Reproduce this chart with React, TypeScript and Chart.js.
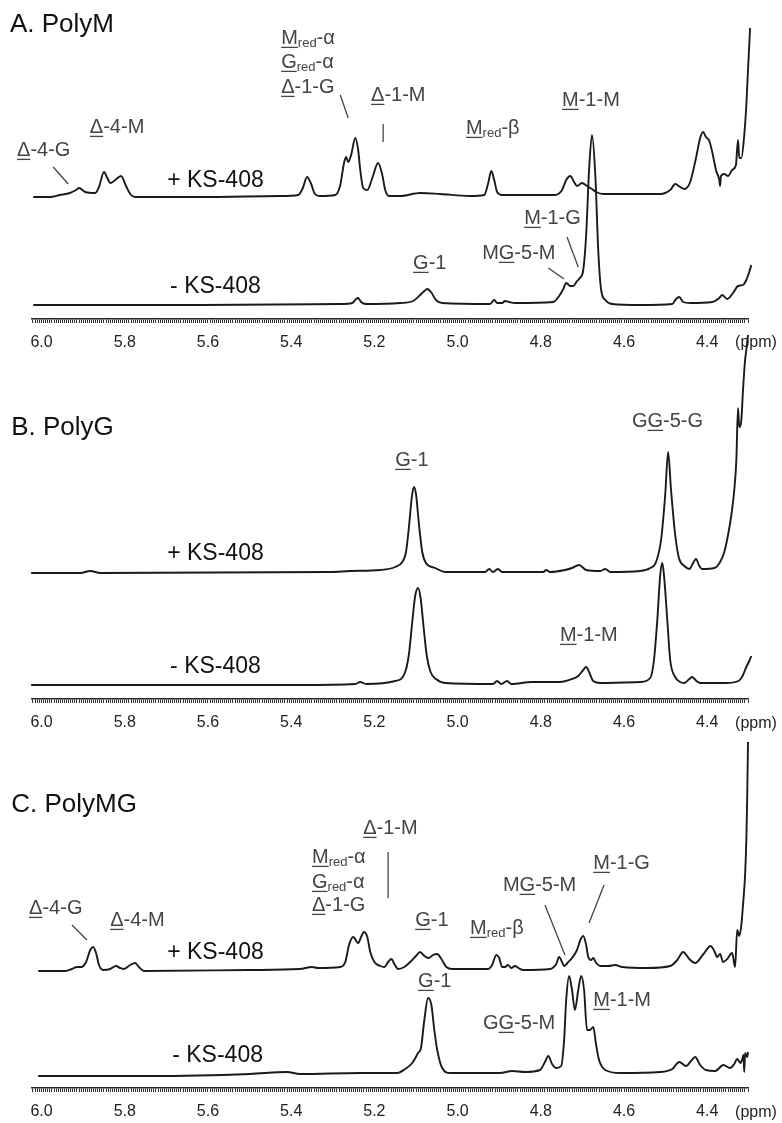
import React, { useEffect, useRef } from 'react';
import { Chart, registerables } from 'chart.js';

Chart.register(...registerables);

type Pt = [number, number];

// ---- spectra: [ppm, intensity above own baseline] ----
const polyM_plus: Pt[] = [
  [6.020,-1],[5.980,-1],[5.956,1],[5.932,3],[5.917,6],[5.910,8],[5.895,4],[5.871,3],[5.862,9],[5.850,24],[5.842,18],[5.835,13],[5.823,16],[5.809,20],[5.797,10],[5.787,2],[5.775,-1],[5.619,-1],[5.427,0],[5.383,1],[5.372,8],[5.362,19],[5.352,12],[5.343,2],[5.331,0],[5.294,1],[5.282,11],[5.273,33],[5.268,39],[5.263,34],[5.256,41],[5.246,58],[5.239,46],[5.234,26],[5.227,8],[5.217,6],[5.205,18],[5.191,33],[5.181,21],[5.174,6],[5.165,0],[5.138,0],[5.090,3],[5.042,2],[4.970,0],[4.936,1],[4.927,12],[4.919,25],[4.912,16],[4.905,4],[4.893,1],[4.766,1],[4.749,6],[4.739,16],[4.729,20],[4.720,14],[4.713,10],[4.701,13],[4.689,10],[4.677,7],[4.667,4],[4.650,2],[4.513,2],[4.489,6],[4.477,12],[4.465,9],[4.455,7],[4.441,14],[4.427,38],[4.417,58],[4.410,64],[4.403,59],[4.395,55],[4.388,44],[4.379,26],[4.371,16],[4.369,10],[4.367,20],[4.359,22],[4.350,20],[4.340,26],[4.331,31],[4.326,56],[4.323,38],[4.318,38],[4.311,61],[4.306,91],[4.302,126],[4.299,151],[4.297,168]
];
const polyM_minus: Pt[] = [
  [6.020,0],[5.619,0],[5.282,1],[5.253,2],[5.244,6],[5.239,7],[5.232,3],[5.220,1],[5.138,2],[5.107,4],[5.090,10],[5.080,14],[5.073,16],[5.064,13],[5.052,5],[5.037,2],[4.922,1],[4.912,5],[4.905,2],[4.893,2],[4.886,4],[4.876,3],[4.862,2],[4.770,3],[4.756,9],[4.746,16],[4.739,22],[4.729,19],[4.722,19],[4.713,24],[4.706,27],[4.698,35],[4.691,70],[4.684,135],[4.677,170],[4.669,130],[4.662,55],[4.655,15],[4.645,5],[4.629,1],[4.561,0],[4.484,1],[4.475,6],[4.467,8],[4.458,3],[4.441,2],[4.388,3],[4.371,7],[4.364,10],[4.352,6],[4.338,12],[4.326,19],[4.314,20],[4.306,25],[4.299,33],[4.294,40]
];
const polyG_plus: Pt[] = [
  [6.025,-1],[5.907,-1],[5.883,1],[5.859,-1],[5.306,0],[5.258,1],[5.186,2],[5.150,5],[5.133,10],[5.124,20],[5.117,45],[5.110,75],[5.105,85],[5.100,78],[5.093,48],[5.085,20],[5.076,9],[5.054,4],[5.030,0],[4.934,0],[4.924,3],[4.915,0],[4.903,3],[4.893,0],[4.794,0],[4.787,2],[4.778,0],[4.742,2],[4.725,4],[4.708,7],[4.691,2],[4.657,1],[4.645,3],[4.633,0],[4.561,1],[4.537,4],[4.523,10],[4.511,32],[4.501,77],[4.494,120],[4.487,82],[4.477,37],[4.468,14],[4.455,6],[4.443,3],[4.434,9],[4.427,13],[4.419,6],[4.412,3],[4.383,4],[4.369,10],[4.359,20],[4.350,37],[4.342,57],[4.335,82],[4.330,112],[4.326,164],[4.323,145],[4.318,152],[4.314,182],[4.309,212],[4.306,222],[4.302,237]
];
const polyG_minus: Pt[] = [
  [6.025,-1],[5.378,-1],[5.246,0],[5.234,2],[5.220,0],[5.150,3],[5.126,12],[5.117,30],[5.109,62],[5.102,88],[5.095,96],[5.089,86],[5.082,58],[5.074,28],[5.065,12],[5.052,5],[5.030,1],[4.915,0],[4.905,3],[4.895,0],[4.881,3],[4.871,0],[4.821,2],[4.754,2],[4.725,5],[4.710,8],[4.698,14],[4.691,17],[4.684,12],[4.674,3],[4.657,1],[4.561,2],[4.537,6],[4.528,24],[4.520,64],[4.513,109],[4.508,121],[4.504,109],[4.496,64],[4.489,24],[4.477,7],[4.465,2],[4.455,1],[4.443,5],[4.436,7],[4.426,3],[4.416,1],[4.356,1],[4.325,3],[4.315,8],[4.311,12],[4.306,17],[4.299,23],[4.294,28]
];
const polyMG_plus: Pt[] = [
  [6.008,-2],[5.943,-2],[5.927,0],[5.915,2],[5.905,2],[5.893,7],[5.883,19],[5.876,22],[5.869,16],[5.862,4],[5.852,-1],[5.835,0],[5.821,3],[5.811,1],[5.802,0],[5.787,4],[5.775,6],[5.766,2],[5.754,-2],[5.499,-1],[5.379,0],[5.350,2],[5.335,1],[5.282,2],[5.270,7],[5.261,24],[5.251,32],[5.239,26],[5.232,32],[5.225,37],[5.217,32],[5.210,17],[5.200,7],[5.186,3],[5.176,2],[5.167,7],[5.159,10],[5.152,5],[5.143,0],[5.128,2],[5.114,7],[5.100,13],[5.090,17],[5.080,13],[5.070,11],[5.059,14],[5.049,15],[5.039,10],[5.027,2],[5.013,0],[4.927,0],[4.917,4],[4.907,14],[4.900,11],[4.893,2],[4.886,2],[4.879,4],[4.871,1],[4.862,3],[4.854,1],[4.842,-1],[4.778,0],[4.763,5],[4.756,12],[4.749,7],[4.744,3],[4.734,7],[4.725,11],[4.713,19],[4.705,29],[4.698,33],[4.691,24],[4.686,12],[4.679,9],[4.674,11],[4.667,6],[4.657,3],[4.638,3],[4.621,4],[4.604,2],[4.544,1],[4.489,3],[4.472,9],[4.458,17],[4.443,10],[4.429,6],[4.409,15],[4.392,23],[4.383,18],[4.376,12],[4.369,15],[4.362,7],[4.352,10],[4.340,16],[4.333,2],[4.328,39],[4.323,33],[4.318,44],[4.314,64],[4.309,94],[4.306,129],[4.304,169],[4.302,227]
];
const polyMG_minus: Pt[] = [
  [6.008,-2],[5.739,-2],[5.499,0],[5.410,2],[5.379,0],[5.234,1],[5.145,1],[5.126,5],[5.109,11],[5.095,21],[5.088,26],[5.080,54],[5.071,76],[5.063,69],[5.056,44],[5.049,24],[5.037,6],[5.018,1],[4.898,1],[4.869,3],[4.838,2],[4.802,4],[4.790,12],[4.782,18],[4.773,10],[4.763,6],[4.751,8],[4.744,34],[4.739,74],[4.732,98],[4.725,84],[4.718,64],[4.710,84],[4.703,98],[4.696,84],[4.689,44],[4.682,44],[4.674,47],[4.667,29],[4.660,14],[4.645,4],[4.609,1],[4.513,2],[4.484,5],[4.467,12],[4.451,8],[4.439,13],[4.429,17],[4.417,9],[4.403,4],[4.381,3],[4.361,9],[4.345,6],[4.335,10],[4.328,15],[4.320,11],[4.315,16],[4.313,19],[4.311,2],[4.309,21],[4.304,17],[4.302,22]
];

// ---- axis ----
const PPM_MIN = 4.302;
const PPM_MAX = 6.023;
const PPM_TICK_LABELS = [6.0, 5.8, 5.6, 5.4, 5.2, 5.0, 4.8, 4.6, 4.4];
const MINOR_STEP = 0.005;

// ---- text: _x_ underlined, {x} subscript ----
type Kind = 'title' | 'trace' | 'peak' | 'unit';
type Label = { text: string; ppm: number; v: number; kind: Kind };
type Leader = [number, number, number, number];

const polyM_labels: Label[] = [
  { text: 'A. PolyM', ppm: 6.076, v: 294, kind: 'title' },
  { text: '+ KS-408', ppm: 5.698, v: 138, kind: 'trace' },
  { text: '- KS-408', ppm: 5.691, v: 32, kind: 'trace' },
  { text: '_Δ_-4-G', ppm: 6.059, v: 169, kind: 'peak' },
  { text: '_Δ_-4-M', ppm: 5.884, v: 192, kind: 'peak' },
  { text: '_M_{red}-α', ppm: 5.424, v: 281, kind: 'peak' },
  { text: '_G_{red}-α', ppm: 5.424, v: 257, kind: 'peak' },
  { text: '_Δ_-1-G', ppm: 5.424, v: 232, kind: 'peak' },
  { text: '_Δ_-1-M', ppm: 5.208, v: 224, kind: 'peak' },
  { text: '_M_{red}-β', ppm: 4.980, v: 191, kind: 'peak' },
  { text: '_M_-1-M', ppm: 4.749, v: 219, kind: 'peak' },
  { text: '_M_-1-G', ppm: 4.840, v: 101, kind: 'peak' },
  { text: 'M_G_-5-M', ppm: 4.941, v: 66, kind: 'peak' },
  { text: '_G_-1', ppm: 5.107, v: 56, kind: 'peak' },
  { text: '(ppm)', ppm: 4.333, v: -24, kind: 'unit' },
];
const polyM_leaders: Leader[] = [
  [5.972, 152, 5.936, 135],
  [5.282, 224, 5.263, 201],
  [5.179, 195, 5.179, 177],
  [4.737, 82, 4.710, 52],
  [4.782, 51, 4.744, 40],
];

const polyG_labels: Label[] = [
  { text: 'B. PolyG', ppm: 6.073, v: 271, kind: 'title' },
  { text: '+ KS-408', ppm: 5.698, v: 145, kind: 'trace' },
  { text: '- KS-408', ppm: 5.691, v: 32, kind: 'trace' },
  { text: '_G_-1', ppm: 5.150, v: 239, kind: 'peak' },
  { text: 'G_G_-5-G', ppm: 4.581, v: 278, kind: 'peak' },
  { text: '_M_-1-M', ppm: 4.754, v: 64, kind: 'peak' },
  { text: '(ppm)', ppm: 4.333, v: -25, kind: 'unit' },
];
const polyG_leaders: Leader[] = [];

const polyMG_labels: Label[] = [
  { text: 'C. PolyMG', ppm: 6.073, v: 283, kind: 'title' },
  { text: '_Δ_-4-G', ppm: 6.030, v: 180, kind: 'peak' },
  { text: '_Δ_-4-M', ppm: 5.835, v: 168, kind: 'peak' },
  { text: '+ KS-408', ppm: 5.698, v: 135, kind: 'trace' },
  { text: '- KS-408', ppm: 5.686, v: 32, kind: 'trace' },
  { text: '_Δ_-1-M', ppm: 5.227, v: 260, kind: 'peak' },
  { text: '_M_{red}-α', ppm: 5.350, v: 231, kind: 'peak' },
  { text: '_G_{red}-α', ppm: 5.350, v: 206, kind: 'peak' },
  { text: '_Δ_-1-G', ppm: 5.350, v: 183, kind: 'peak' },
  { text: '_G_-1', ppm: 5.102, v: 168, kind: 'peak' },
  { text: '_M_{red}-β', ppm: 4.970, v: 160, kind: 'peak' },
  { text: 'M_G_-5-M', ppm: 4.891, v: 203, kind: 'peak' },
  { text: '_M_-1-G', ppm: 4.674, v: 225, kind: 'peak' },
  { text: '_G_-1', ppm: 5.095, v: 107, kind: 'peak' },
  { text: '_M_-1-M', ppm: 4.674, v: 88, kind: 'peak' },
  { text: 'G_G_-5-M', ppm: 4.939, v: 65, kind: 'peak' },
  { text: '(ppm)', ppm: 4.333, v: -25, kind: 'unit' },
];
const polyMG_leaders: Leader[] = [
  [5.927, 163, 5.891, 148],
  [5.167, 236, 5.167, 190],
  [4.790, 183, 4.742, 133],
  [4.648, 203, 4.684, 165],
];

const FONT = '"Liberation Sans", Arial, Helvetica, sans-serif';
const STYLE: Record<Kind, { size: number; color: string }> = {
  title: { size: 26, color: '#111' },
  trace: { size: 23, color: '#111' },
  peak: { size: 20, color: '#444' },
  unit: { size: 16, color: '#222' },
};

type Seg = { t: string; u?: boolean; sub?: boolean };
function parse(text: string): Seg[] {
  const segs: Seg[] = [];
  const re = /_([^_]+)_|\{([^}]+)\}|([^_{]+)/g;
  let m: RegExpExecArray | null;
  while ((m = re.exec(text))) {
    if (m[1]) segs.push({ t: m[1], u: true });
    else if (m[2]) segs.push({ t: m[2], sub: true });
    else segs.push({ t: m[3] });
  }
  return segs;
}

function drawRich(ctx: CanvasRenderingContext2D, text: string, x: number, y: number, kind: Kind) {
  const { size, color } = STYLE[kind];
  ctx.fillStyle = color;
  ctx.strokeStyle = color;
  ctx.textBaseline = 'middle';
  ctx.textAlign = 'left';
  let cx = x;
  for (const s of parse(text)) {
    const fs = s.sub ? Math.round(size * 0.66) : size;
    ctx.font = `${fs}px ${FONT}`;
    const dy = s.sub ? size * 0.26 : 0;
    ctx.fillText(s.t, cx, y + dy);
    const w = ctx.measureText(s.t).width;
    if (s.u) {
      ctx.lineWidth = 1.3;
      ctx.beginPath();
      ctx.moveTo(cx, y + size * 0.47);
      ctx.lineTo(cx + w, y + size * 0.47);
      ctx.stroke();
    }
    cx += w;
  }
}

function makeTextPlugin(labels: Label[], leaders: Leader[]) {
  return {
    id: 'nmrText',
    afterDraw(chart: any) {
      const { ctx } = chart;
      const xs = chart.scales.x;
      const ys = chart.scales.y;
      ctx.save();
      ctx.strokeStyle = '#444';
      ctx.lineWidth = 1.3;
      for (const [a, b, c, d] of leaders) {
        ctx.beginPath();
        ctx.moveTo(xs.getPixelForValue(a), ys.getPixelForValue(b));
        ctx.lineTo(xs.getPixelForValue(c), ys.getPixelForValue(d));
        ctx.stroke();
      }
      for (const l of labels) {
        drawRich(ctx, l.text, xs.getPixelForValue(l.ppm), ys.getPixelForValue(l.v), l.kind);
      }
      ctx.restore();
    },
  };
}

type PanelProps = {
  top: number;
  height: number;
  plus: Pt[];
  minus: Pt[];
  plusOffset: number;
  minusOffset: number;
  labels: Label[];
  leaders: Leader[];
};

const AXIS_H = 34;

function Panel(p: PanelProps) {
  const ref = useRef<HTMLCanvasElement>(null);
  useEffect(() => {
    const canvas = ref.current!;
    const yMax = p.height - AXIS_H;
    const ds = (pts: Pt[], off: number) => ({
      data: pts.map(([x, y]) => ({ x, y: y + off })),
      borderColor: '#1a1a1a',
      borderWidth: 1.9,
      pointRadius: 0,
      pointHitRadius: 0,
      cubicInterpolationMode: 'monotone' as const,
      fill: false,
      clip: false as any,
    });
    const chart = new Chart(canvas, {
      type: 'line',
      data: { datasets: [ds(p.plus, p.plusOffset), ds(p.minus, p.minusOffset)] },
      options: {
        animation: false,
        responsive: false,
        maintainAspectRatio: false,
        events: [],
        layout: { padding: { left: 32, right: 34, top: 0, bottom: 0 } },
        plugins: { legend: { display: false }, tooltip: { enabled: false }, title: { display: false } },
        scales: {
          x: {
            type: 'linear',
            reverse: true,
            min: PPM_MIN,
            max: PPM_MAX,
            afterFit: (s: any) => { s.height = AXIS_H; },
            border: { display: true, color: '#2a2a2a', width: 1.5 },
            grid: { display: true, drawOnChartArea: false, drawTicks: true, tickLength: 4, color: '#333', tickColor: '#333', tickWidth: 1 },
            ticks: {
              stepSize: MINOR_STEP,
              autoSkip: false,
              maxRotation: 0,
              minRotation: 0,
              padding: 10,
              color: '#222',
              font: { family: FONT, size: 16 },
              callback: (val: any) => {
                const v = Number(val);
                const hit = PPM_TICK_LABELS.find((t) => Math.abs(t - v) < 1e-6);
                return hit !== undefined ? hit.toFixed(1) : '';
              },
            },
          },
          y: { display: false, min: 0, max: yMax },
        },
      },
      plugins: [makeTextPlugin(p.labels, p.leaders)],
    });
    return () => chart.destroy();
  }, []);
  return (
    <canvas
      ref={ref}
      width={782}
      height={p.height}
      style={{ position: 'absolute', left: 0, top: p.top, width: 782, height: p.height }}
    />
  );
}

export default function App() {
  return (
    <div style={{ position: 'absolute', left: 0, top: 0, width: 782, height: 1123, background: '#fff', overflow: 'hidden' }}>
      <Panel top={0} height={353} plus={polyM_plus} minus={polyM_minus} plusOffset={123} minusOffset={14} labels={polyM_labels} leaders={polyM_leaders} />
      <Panel top={335} height={398} plus={polyG_plus} minus={polyG_minus} plusOffset={127} minusOffset={15} labels={polyG_labels} leaders={polyG_leaders} />
      <Panel top={738} height={384} plus={polyMG_plus} minus={polyMG_minus} plusOffset={119} minusOffset={14} labels={polyMG_labels} leaders={polyMG_leaders} />
    </div>
  );
}
